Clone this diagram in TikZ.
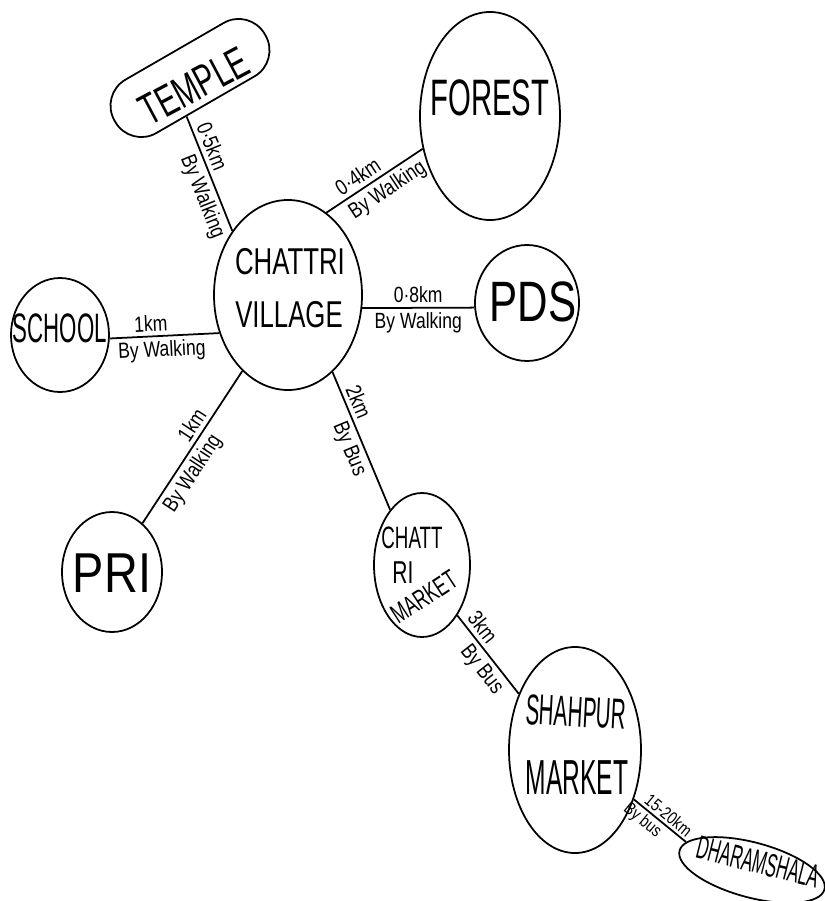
\documentclass[tikz,border=0pt]{standalone}
\usepackage{fontspec}
\usepackage{graphicx}
\setmainfont{Liberation Sans}
\usetikzlibrary{shapes.geometric}

% tall hand-lettered caps: size, vertical stretch, text
\newcommand\hw[3]{\fontsize{#1}{#1}\selectfont\scalebox{1}[#2]{#3}}
% small road captions
\newcommand\roadtext[1]{\hw{15}{1.25}{#1}}

\begin{document}
\begin{tikzpicture}[x=0.03cm,y=-0.03cm,
  ink/.style={draw=black, line width=1.5pt},
  place/.style={ink, ellipse, inner sep=0pt},
  word/.style={inner sep=0pt, text=black},
  road/.style={ink},
  dist/.style={inner sep=3.5pt, sloped, above},
  how/.style={inner sep=3.5pt, sloped, below},
]
\useasboundingbox[fill=white] (0,0) rectangle (825,901);

% places
\node[place, minimum width=4.44cm, minimum height=5.7cm] (village) at (288,295) {};
\node[ink, rounded corners=0.9cm, minimum width=5.2cm, minimum height=1.85cm, rotate=30] (temple) at (190,78) {};
\node[place, minimum width=4.2cm, minimum height=6.24cm] (forest) at (490,116) {};
\node[place, minimum width=3.12cm, minimum height=3.48cm] (pds) at (527,303) {};
\node[place, minimum width=2.94cm, minimum height=3.42cm] (school) at (60,335) {};
\node[place, minimum width=3.0cm, minimum height=3.6cm] (pri) at (112,572) {};
\node[place, minimum width=2.88cm, minimum height=4.32cm] (cmkt) at (422,565) {};
\node[place, minimum width=3.96cm, minimum height=6.18cm] (shahpur) at (575,750) {};
\node[place, minimum width=4.5cm, minimum height=1.65cm, rotate=-15] (dharam) at (752,870) {};

% names written inside
\node[word] (v1) at (290,262) {\hw{22}{1.45}{CHATTRI}};
\node[word] (v2) at (289,315) {\hw{22}{1.45}{VILLAGE}};
\node[word, rotate=28] (tt) at (194,86) {\hw{25}{1.5}{TEMPLE}};
\node[word] (ft) at (490,98) {\hw{25}{1.75}{FOREST}};
\node[word] (pt) at (533,302) {\hw{36}{1.35}{PDS}};
\node[word] (st) at (60,328) {\hw{19}{1.85}{SCHOOL}};
\node[word] (rt) at (112,573) {\hw{40}{1.2}{PRI}};
\node[word] (c1) at (412,538) {\hw{16}{1.65}{CHATT}};
\node[word] (c2) at (403,573) {\hw{18}{1.5}{RI}};
\node[word, rotate=33] (c3) at (424,597) {\hw{15}{1.55}{MARKET}};
\node[word, rotate=-3] (s1) at (576,712) {\hw{17.5}{2.1}{SHAHPUR}};
\node[word] (s2) at (577,778) {\hw{21}{2.0}{MARKET}};
\node[word, rotate=-14] (dt) at (758,862) {\hw{14}{2.0}{DHARAMSHALA}};

% roads with distance and mode of travel
\draw[road] (temple.-125) -- (village.131)
  node[dist, pos=.3] {\roadtext{0·5km}} node[how, pos=.65] {\roadtext{By Walking}};
\draw[road] (village.65) -- (forest.-154)
  node[dist, pos=.4] {\roadtext{0·4km}} node[how, pos=.55] {\roadtext{By Walking}};
\draw[road] (village.-10) -- (pds.185)
  node[dist, pos=.5] {\roadtext{0·8km}} node[how, pos=.5] {\roadtext{By Walking}};
\draw[road] (school.-4) -- (village.-151)
  node[dist, pos=.38] {\roadtext{1km}} node[how, pos=.47] {\roadtext{By Walking}};
\draw[road] (pri.58) -- (village.-121)
  node[dist, pos=.6] {\roadtext{1km}} node[how, pos=.38] {\roadtext{By Walking}};
\draw[road] (village.-60) -- (cmkt.120)
  node[dist, pos=.25] {\roadtext{2km}} node[how, pos=.52] {\roadtext{By Bus}};
\draw[road] (cmkt.-55) -- (shahpur.135)
  node[dist, pos=.25] {\roadtext{3km}} node[how, pos=.58] {\roadtext{By Bus}};
\draw[road] (shahpur.-40) -- (dharam.172)
  node[dist, pos=.55, inner sep=2pt] {\hw{12}{1.25}{15-20km}} node[how, pos=.3, inner sep=2pt] {\hw{12}{1.25}{By bus}};
\end{tikzpicture}
\end{document}
